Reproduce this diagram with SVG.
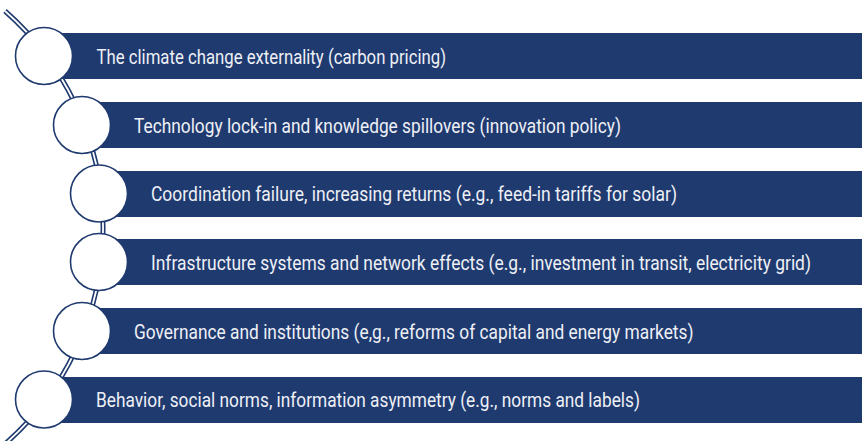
<svg xmlns="http://www.w3.org/2000/svg" width="862" height="441" viewBox="0 0 862 441">
<style>
.bar{fill:#1f3a6f}
.dot{fill:#ffffff;stroke:#1f3a6f;stroke-width:1.6}
.lbl{font-family:Roboto,"Liberation Sans",sans-serif;font-size:20.5px;font-weight:400;fill:#eef0f6}
.rail{fill:none;stroke:#1f3a6f;stroke-width:5}
.railc{fill:none;stroke:#ffffff;stroke-width:1.8}
</style>
<rect width="862" height="441" fill="#ffffff"/>
<g id="connectors">
<path class="rail" d="M 5 11 A 288 288 0 0 1 5 444"/>
<path class="railc" d="M 5 11 A 288 288 0 0 1 5 444"/>
</g>
<g id="n1">
<rect class="bar" x="44" y="33" width="818" height="46"/>
<circle class="dot" cx="44" cy="56" r="28.5"/>
<text class="lbl" transform="translate(96.5,63.5) scale(0.82,1)" textLength="426.2" lengthAdjust="spacingAndGlyphs">The climate change externality (carbon pricing)</text>
</g>
<g id="n2">
<rect class="bar" x="82" y="102" width="780" height="46"/>
<circle class="dot" cx="82" cy="125" r="28.5"/>
<text class="lbl" transform="translate(134,132.5) scale(0.82,1)" textLength="593.9" lengthAdjust="spacingAndGlyphs">Technology lock-in and knowledge spillovers (innovation policy)</text>
</g>
<g id="n3">
<rect class="bar" x="99" y="171" width="763" height="46"/>
<circle class="dot" cx="99" cy="193.5" r="28.5"/>
<text class="lbl" transform="translate(151,201) scale(0.82,1)" textLength="641.5" lengthAdjust="spacingAndGlyphs">Coordination failure, increasing returns (e.g., feed-in tariffs for solar)</text>
</g>
<g id="n4">
<rect class="bar" x="99" y="239" width="763" height="46"/>
<circle class="dot" cx="99" cy="262" r="28.5"/>
<text class="lbl" transform="translate(151,269.5) scale(0.82,1)" textLength="804.9" lengthAdjust="spacingAndGlyphs">Infrastructure systems and network effects (e.g., investment in transit, electricity grid)</text>
</g>
<g id="n5">
<rect class="bar" x="82" y="308" width="780" height="46"/>
<circle class="dot" cx="82" cy="331" r="28.5"/>
<text class="lbl" transform="translate(134,338.5) scale(0.82,1)" textLength="682.3" lengthAdjust="spacingAndGlyphs">Governance and institutions (e,g., reforms of capital and energy markets)</text>
</g>
<g id="n6">
<rect class="bar" x="44" y="377" width="818" height="46"/>
<circle class="dot" cx="44" cy="399.5" r="28.5"/>
<text class="lbl" transform="translate(96,407) scale(0.82,1)" textLength="663.4" lengthAdjust="spacingAndGlyphs">Behavior, social norms, information asymmetry (e.g., norms and labels)</text>
</g>
</svg>
